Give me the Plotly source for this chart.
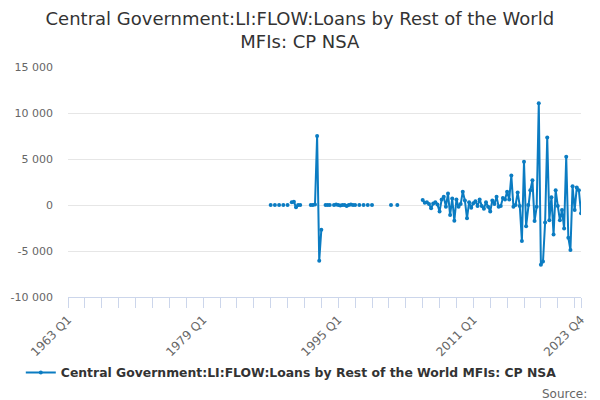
import plotly.graph_objects as go

# quarterly series, 1963 Q1 .. 2023 Q4 (index 0 .. 243), None = no value
quarters = [f"{1963 + i // 4} Q{i % 4 + 1}" for i in range(244)]

early_values = {
    96: 0, 98: 0, 100: 0, 102: 0, 104: 0,
    106: 300, 107: 350, 108: -250, 109: 0, 110: 0,
    115: 0, 116: 0, 117: 50, 118: 7500, 119: -6050, 120: -2700,
    122: 0, 123: 0, 124: 0,
    126: 0, 127: 50, 128: 0, 129: -50, 130: 0, 131: 0, 132: -100, 133: 0, 134: 50, 135: 0, 136: 0,
    138: 0, 140: 0, 142: 0, 144: 0,
    153: 0, 156: 0,
}

recent_values = [
    550, 250, 300, 100, -350, 150, 300, 50, -700, 600, 900, -200,
    1250, -1100, 700, -1700, 600, -200, 100, 1450, 500, -1450, 300, -300,
    200, 400, -100, 600, -100, -400, 300, -200, -700, 500, 100, 900,
    -200, -100, 750, 600, 1450, 600, 3200, -200, 0, 1350, -100, -3900,
    4700, -2300, 0, 1600, 2700, -1750, -200, 11050, -6500, -6150, -1900, 7350,
    -1650, 850, -3200, 1600, -100, -1650, -550, -2550, 5250, -3550, -4900, 2050,
    -550, 1900, 1600, -900,
]
recent_start = 168

values = [None] * 244
for k, v in early_values.items():
    values[k] = v
for j, v in enumerate(recent_values):
    values[recent_start + j] = v

series_name = "Central Government:LI:FLOW:Loans by Rest of the World MFIs: CP NSA"
x_tick_pos = [0, 64, 128, 192, 243]
x_tick_text = [quarters[i] for i in x_tick_pos]
y_tick_vals = [-10000, -5000, 0, 5000, 10000, 15000]
y_tick_text = ["-10 000", "-5 000", "0", "5 000", "10 000", "15 000"]

fig = go.Figure()
fig.add_trace(go.Scatter(
    x=list(range(244)), y=values, mode="lines+markers", name=series_name,
    line=dict(color="#0b7cc2", width=2), marker=dict(size=4, color="#0b7cc2"),
    connectgaps=False,
))

# page body has an 8px margin, so the figure is a bit smaller than the window
fig.update_layout(
    width=592, height=392,
    margin=dict(l=60, r=19, t=59, b=103),
    paper_bgcolor="white", plot_bgcolor="white",
    font=dict(family="DejaVu Sans", color="#666666", size=11),
    title=dict(text="Central Government:LI:FLOW:Loans by Rest of the World<br>MFIs: CP NSA",
               x=0.493, xref="container", xanchor="center",
               y=0.957, yref="container", yanchor="middle",
               font=dict(size=18, color="#333333")),
    showlegend=True,
    legend=dict(orientation="h", x=-0.092, xref="paper", xanchor="left", y=-0.33, yanchor="middle",
                font=dict(size=12.4, color="#333333", weight="bold")),
    annotations=[dict(text="Source:", x=1.015, y=-0.42, xref="paper", yref="paper",
                      xanchor="right", yanchor="middle", showarrow=False,
                      font=dict(size=12, color="#666666"))],
)

fig.update_xaxes(
    range=[0, 243], tickvals=x_tick_pos, ticktext=x_tick_text, tickangle=-45,
    showgrid=False, zeroline=False, showline=True, linecolor="#ccd6eb", linewidth=1,
    ticks="outside", ticklen=10, tickcolor="#ccd6eb",
    minor=dict(tickvals=list(range(0, 244, 8)), ticks="outside", ticklen=10, tickcolor="#ccd6eb"),
    tickfont=dict(size=12, color="#666666"), automargin=False,
)
fig.update_yaxes(
    range=[-10000, 15000], tickvals=y_tick_vals, ticktext=y_tick_text,
    showgrid=True, gridcolor="#e6e6e6", zeroline=False, showline=False,
    tickfont=dict(size=11, color="#666666"), ticklabelstandoff=14, automargin=False,
)

fig.write_html("out.html")
